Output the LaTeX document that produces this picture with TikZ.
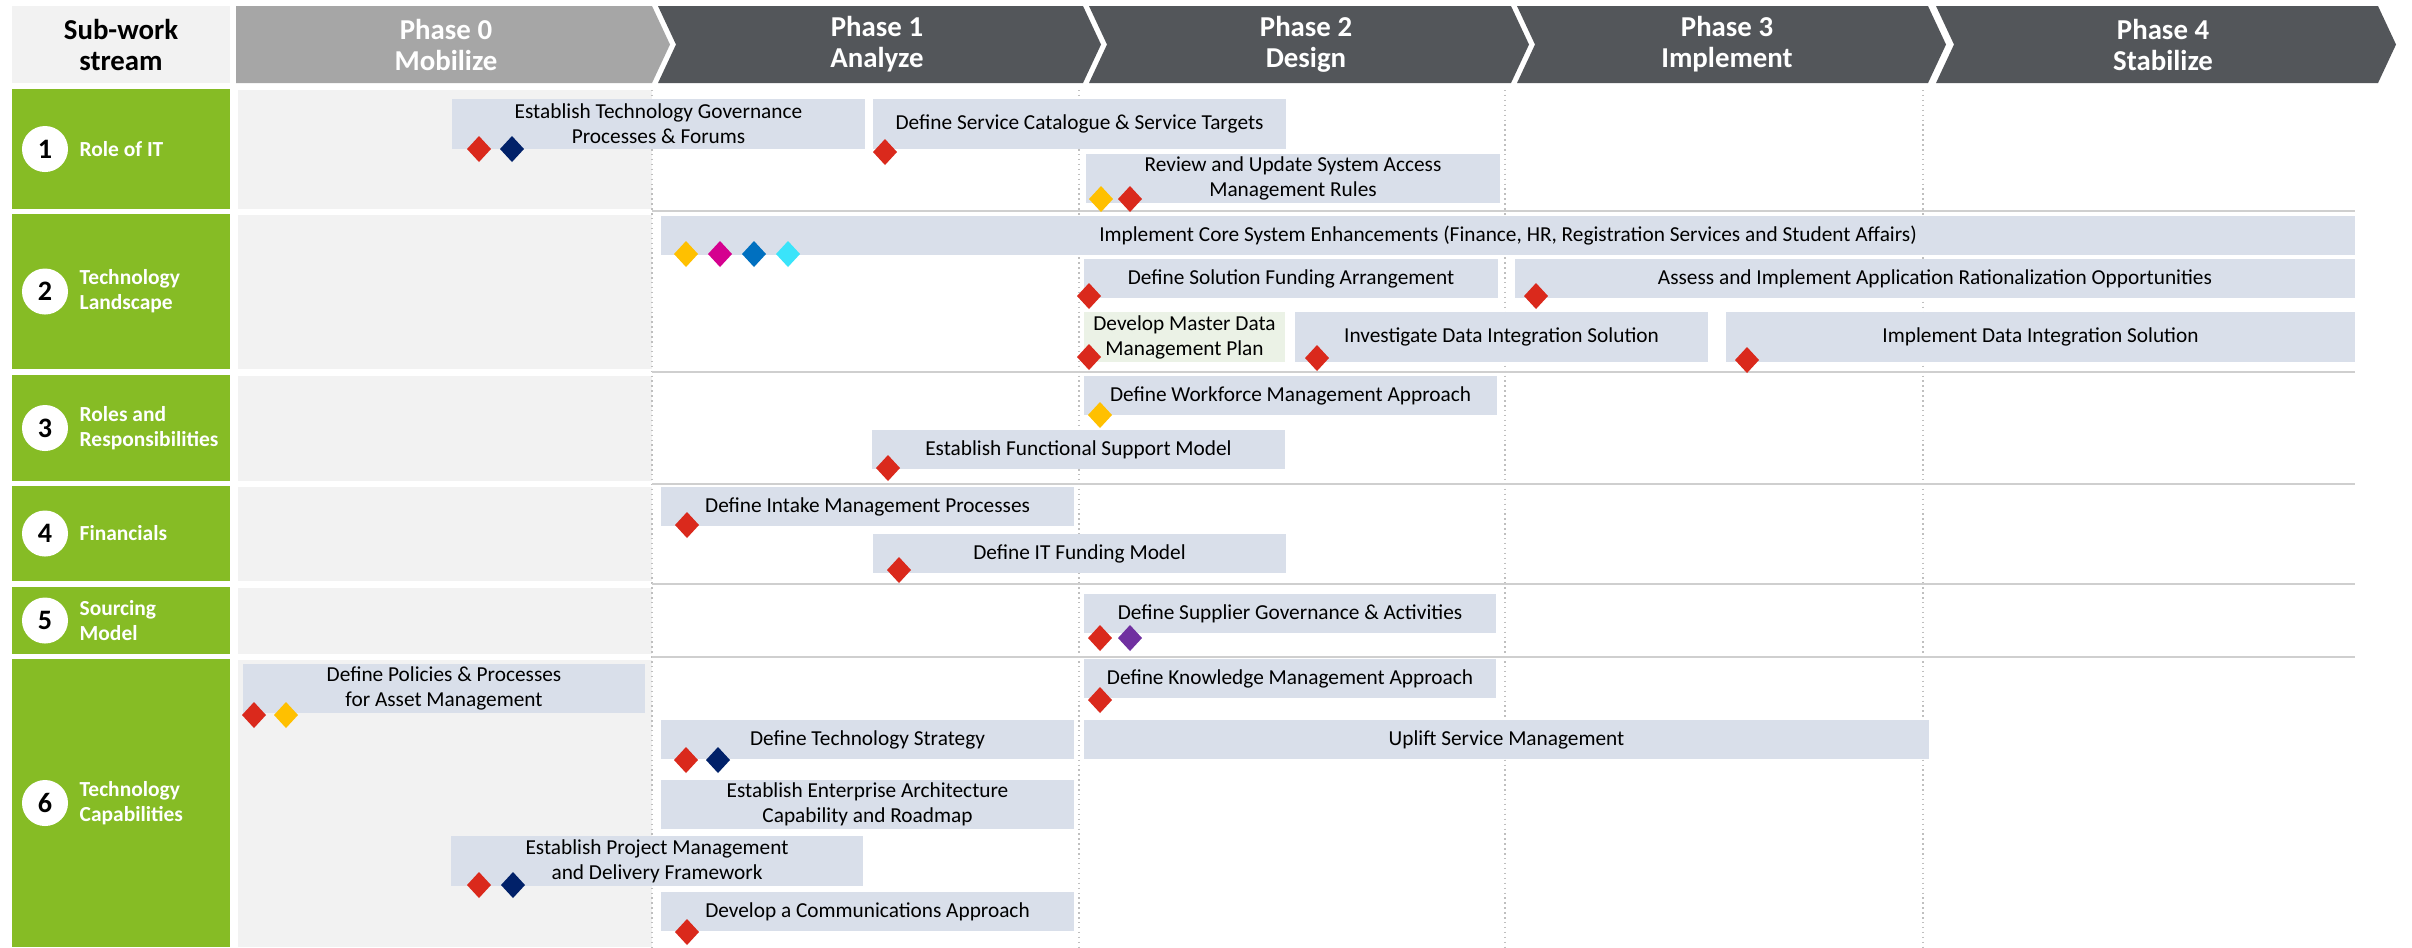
\documentclass[tikz,border=0pt]{standalone}
\usepackage{fontspec}
\setmainfont{Carlito}
\usetikzlibrary{calc}
\definecolor{grn}{HTML}{86BC25}
\definecolor{hdrdark}{HTML}{53565A}
\definecolor{hdrlight}{HTML}{A6A6A6}
\definecolor{bgg}{HTML}{F2F2F2}
\definecolor{barc}{HTML}{D9DFEA}
\definecolor{bargrn}{HTML}{EBF2E6}
\definecolor{sepc}{HTML}{CFCFCF}
\definecolor{dotc}{HTML}{BFBFBF}
\definecolor{dred}{HTML}{DA291C}
\definecolor{dnavy}{HTML}{012169}
\definecolor{dyel}{HTML}{FFC000}
\definecolor{dmag}{HTML}{D5008F}
\definecolor{dblue}{HTML}{0070C0}
\definecolor{dcyan}{HTML}{3AE4FA}
\definecolor{dpur}{HTML}{7030A0}
\newcommand\tbar[7][barc]{\node[taskbar, fill=#1, minimum width={(#5-#3)*0.01cm}, minimum height={(#6-#4)*0.01cm}] (#2) at ({(#3+#5)/2},{(#4+#6)/2}) {#7};}
\newcommand\dmd[3]{\fill[#1] (#2,#3) ++(0,-13) -- ++(12,13) -- ++(-12,13) -- ++(-12,-13) -- cycle;}
\newcommand\phasearrow[3]{\fill[#1] (#2,6) -- (#3,6) -- ({#3+18},44.5) -- (#3,83) -- (#2,83) -- ({#2+18},44.5) -- cycle;}
\begin{document}
\begin{tikzpicture}[x=0.01cm,y=-0.01cm,
  taskbar/.style={inner sep=0pt, align=center, text=black, font=\fontsize{6.06pt}{7.1pt}\selectfont},
  hdr/.style={align=center, inner sep=0pt, font=\bfseries\fontsize{8.2pt}{8.8pt}\selectfont},
  rowlbl/.style={anchor=west, align=left, text=white, inner sep=0pt, font=\bfseries\fontsize{6.1pt}{7.1pt}\selectfont},
  numc/.style={circle, fill=white, minimum size=0.46cm, inner sep=0pt, font=\bfseries\fontsize{8pt}{9pt}\selectfont},
  sep/.style={draw=sepc, line width=0.6pt},
  vdot/.style={draw=dotc, line width=0.4pt, densely dotted}]
\useasboundingbox (0,0) rectangle (2412,947);
\fill[white] (0,0) rectangle (2412,947);
% header
\fill[bgg] (12,6) rectangle (230,83);
\node[hdr, text=black] (hsub) at (121,44.5) {Sub-work\\stream};
\fill[hdrlight] (236,6) -- (652,6) -- (670,44.5) -- (652,83) -- (236,83) -- cycle;
\phasearrow{hdrdark}{658}{1083}
\phasearrow{hdrdark}{1089}{1511}
\phasearrow{hdrdark}{1517}{1928}
\phasearrow{hdrdark}{1936}{2378}
\node[hdr, text=white] (p0) at (446,44.5) {Phase 0\\Mobilize};
\node[hdr, text=white] (p1) at (877,44.5) {Phase 1\\Analyze};
\node[hdr, text=white] (p2) at (1306,44.5) {Phase 2\\Design};
\node[hdr, text=white] (p3) at (1727,44.5) {Phase 3\\Implement};
\node[hdr, text=white] (p4) at (2163,44.5) {Phase 4\\Stabilize};
% row label boxes and phase 0 backgrounds
\foreach \ya/\yb in {89/209,214/369,375/481,486/581,587/654,659/947}{
  \fill[grn] (12,\ya) rectangle (230,\yb);
  \fill[bgg] (238,{\ya+1}) rectangle (652,\yb);
}
\node[numc] (n1) at (45,149) {1};
\node[rowlbl] (l1) at (79,149) {Role of IT};
\node[numc] (n2) at (45,291.5) {2};
\node[rowlbl] (l2) at (79,291.5) {Technology\\Landscape};
\node[numc] (n3) at (45,428) {3};
\node[rowlbl] (l3) at (79,428) {Roles and\\Responsibilities};
\node[numc] (n4) at (45,533.5) {4};
\node[rowlbl] (l4) at (79,533.5) {Financials};
\node[numc] (n5) at (45,620.5) {5};
\node[rowlbl] (l5) at (79,620.5) {Sourcing\\Model};
\node[numc] (n6) at (45,803) {6};
\node[rowlbl] (l6) at (79,803) {Technology\\Capabilities};
% grid
\foreach \x in {652,1079,1505,1923}{\draw[vdot] (\x,90) -- (\x,947);}
\foreach \y in {211,372,484,584,657}{\draw[sep] (652,\y) -- (2355,\y);}
% tasks
\tbar{t1a}{452}{99}{865}{149}{Establish Technology Governance\\Processes \& Forums}
\tbar{t1b}{873}{99}{1286}{149}{Define Service Catalogue \& Service Targets}
\tbar{t1c}{1086}{154}{1500}{203}{Review and Update System Access\\Management Rules}
\tbar{t2a}{661}{216}{2355}{255}{Implement Core System Enhancements (Finance, HR, Registration Services and Student Affairs)}
\tbar{t2b}{1084}{259}{1498}{298}{Define Solution Funding Arrangement}
\tbar{t2c}{1515}{259}{2355}{298}{Assess and Implement Application Rationalization Opportunities}
\tbar[bargrn]{t2d}{1084}{312}{1285}{362}{Develop Master Data\\Management Plan}
\tbar{t2e}{1295}{312}{1708}{362}{Investigate Data Integration Solution}
\tbar{t2f}{1726}{312}{2355}{362}{Implement Data Integration Solution}
\tbar{t3a}{1084}{376}{1497}{415}{Define Workforce Management Approach}
\tbar{t3b}{872}{430}{1285}{469}{Establish Functional Support Model}
\tbar{t4a}{661}{487}{1074}{526}{Define Intake Management Processes}
\tbar{t4b}{873}{534}{1286}{573}{Define IT Funding Model}
\tbar{t5a}{1084}{594}{1496}{633}{Define Supplier Governance \& Activities}
\tbar{t6a}{243}{664}{645}{713}{Define Policies \& Processes\\for Asset Management}
\tbar{t6b}{1084}{659}{1496}{698}{Define Knowledge Management Approach}
\tbar{t6c}{661}{720}{1074}{759}{Define Technology Strategy}
\tbar{t6d}{1084}{720}{1929}{759}{Uplift Service Management}
\tbar{t6e}{661}{780}{1074}{829}{Establish Enterprise Architecture\\Capability and Roadmap}
\tbar{t6f}{451}{836}{863}{886}{Establish Project Management\\and Delivery Framework}
\tbar{t6g}{661}{892}{1074}{931}{Develop a Communications Approach}
% milestones
\dmd{dred}{479}{149}\dmd{dnavy}{512}{149}
\dmd{dred}{885}{152}
\dmd{dyel}{1101}{199}\dmd{dred}{1130}{199}
\dmd{dyel}{686}{254}\dmd{dmag}{720}{254}\dmd{dblue}{754}{254}\dmd{dcyan}{788}{254}
\dmd{dred}{1089}{296}
\dmd{dred}{1536}{296}
\dmd{dred}{1089}{357}
\dmd{dred}{1317}{358}
\dmd{dred}{1747}{360}
\dmd{dyel}{1100}{415}
\dmd{dred}{888}{468}
\dmd{dred}{687}{525}
\dmd{dred}{899}{570}
\dmd{dred}{1100}{638}\dmd{dpur}{1130}{638}
\dmd{dred}{254}{715}\dmd{dyel}{286}{715}
\dmd{dred}{1100}{700}
\dmd{dred}{686}{760}\dmd{dnavy}{718}{760}
\dmd{dred}{479}{885}\dmd{dnavy}{513}{885}
\dmd{dred}{687}{932}
\end{tikzpicture}
\end{document}
